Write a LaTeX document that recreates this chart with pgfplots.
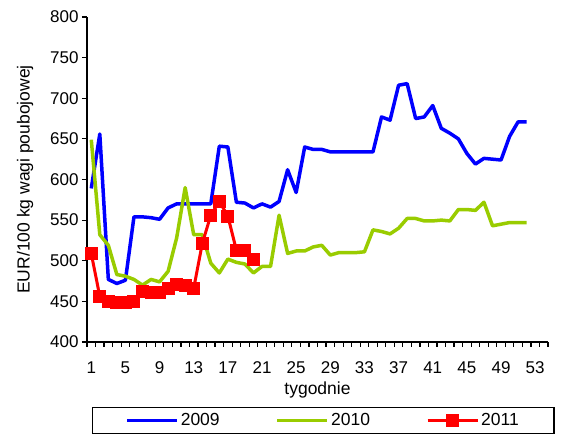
\documentclass[border=0pt]{standalone}
\usepackage{fontspec}
\setmainfont{Liberation Sans}
\usepackage{pgfplots}
\pgfplotsset{compat=1.18}
\definecolor{c2009}{RGB}{0,0,255}
\definecolor{c2010}{RGB}{153,204,0}
\definecolor{c2011}{RGB}{255,0,0}
\begin{document}
\begin{tikzpicture}[x=1pt,y=1pt,font=\fontsize{17}{20}\selectfont]
\useasboundingbox (0,0) rectangle (563,438);
\begin{axis}[
  at={(87pt,96pt)}, anchor=south west,
  width=461pt, height=325pt, scale only axis,
  xmin=0.5, xmax=54.5, ymin=400, ymax=800,
  ytick={400,450,...,800},
  xtick={1,5,...,53},
  minor xtick={0.5,1.5,...,54.5},
  every major x tick/.append style={opacity=0},
  axis x line*=bottom, axis y line*=left,
  axis line style={line width=1.5pt},
  tick align=outside,
  major tick length=5pt, minor tick length=5pt,
  tick style={line width=1.2pt, black},
  /pgf/number format/assume math mode=true,
  xticklabel style={yshift=-11pt},
  xlabel={tygodnie}, ylabel={EUR/100 kg wagi poubojowej},
  label style={font=\fontsize{17.5}{20}\selectfont},
  xlabel style={yshift=-1pt},
  ylabel style={yshift=10pt},
  legend columns=3,
  legend style={at={(0.512,-0.2)}, anchor=north, draw=black, line width=1.5pt,
    inner xsep=33pt, inner ysep=4pt, font=\fontsize{17.5}{20}\selectfont,
    /tikz/every even column/.append style={column sep=54pt}},
  legend image code/.code={\draw[mark repeat=2,mark phase=2,#1] plot coordinates {(0pt,0pt) (25pt,0pt) (50pt,0pt)};},
]
\addplot[c2009, line width=3.5pt, line join=round] coordinates {
(1,589) (2,656) (3,477) (4,472) (5,476) (6,554) (7,554) (8,553) (9,551) (10,565)
(11,570) (12,570) (13,570) (14,570) (15,570) (16,641) (17,640) (18,572) (19,571) (20,565)
(21,570) (22,566) (23,573) (24,612) (25,584) (26,640) (27,637) (28,637) (29,634) (30,634)
(31,634) (32,634) (33,634) (34,634) (35,677) (36,673) (37,716) (38,718) (39,675) (40,677)
(41,691) (42,663) (43,657) (44,650) (45,632) (46,619) (47,626) (48,625) (49,624) (50,653)
(51,671) (52,671)
};
\addlegendentry{2009}
\addplot[c2010, line width=3.5pt, line join=round] coordinates {
(1,649) (2,532) (3,519) (4,483) (5,481) (6,477) (7,470) (8,477) (9,474) (10,487)
(11,528) (12,590) (13,532) (14,532) (15,497) (16,485) (17,502) (18,498) (19,496) (20,485)
(21,493) (22,493) (23,556) (24,509) (25,512) (26,512) (27,517) (28,519) (29,507) (30,510)
(31,510) (32,510) (33,511) (34,538) (35,536) (36,533) (37,540) (38,552) (39,552) (40,549)
(41,549) (42,550) (43,549) (44,563) (45,563) (46,562) (47,572) (48,543) (49,545) (50,547)
(51,547) (52,547)
};
\addlegendentry{2010}
\addplot[c2011, line width=3pt, line join=round, mark=square*, mark size=6pt,
  mark options={solid, line width=0pt}] coordinates {
(1,509) (2,456) (3,450) (4,448) (5,449) (6,450) (7,462) (8,461) (9,461) (10,466)
(11,471) (12,470) (13,466) (14,521) (15,556) (16,573) (17,555) (18,513) (19,512) (20,502)
};
\addlegendentry{2011}
\end{axis}
\end{tikzpicture}
\end{document}
